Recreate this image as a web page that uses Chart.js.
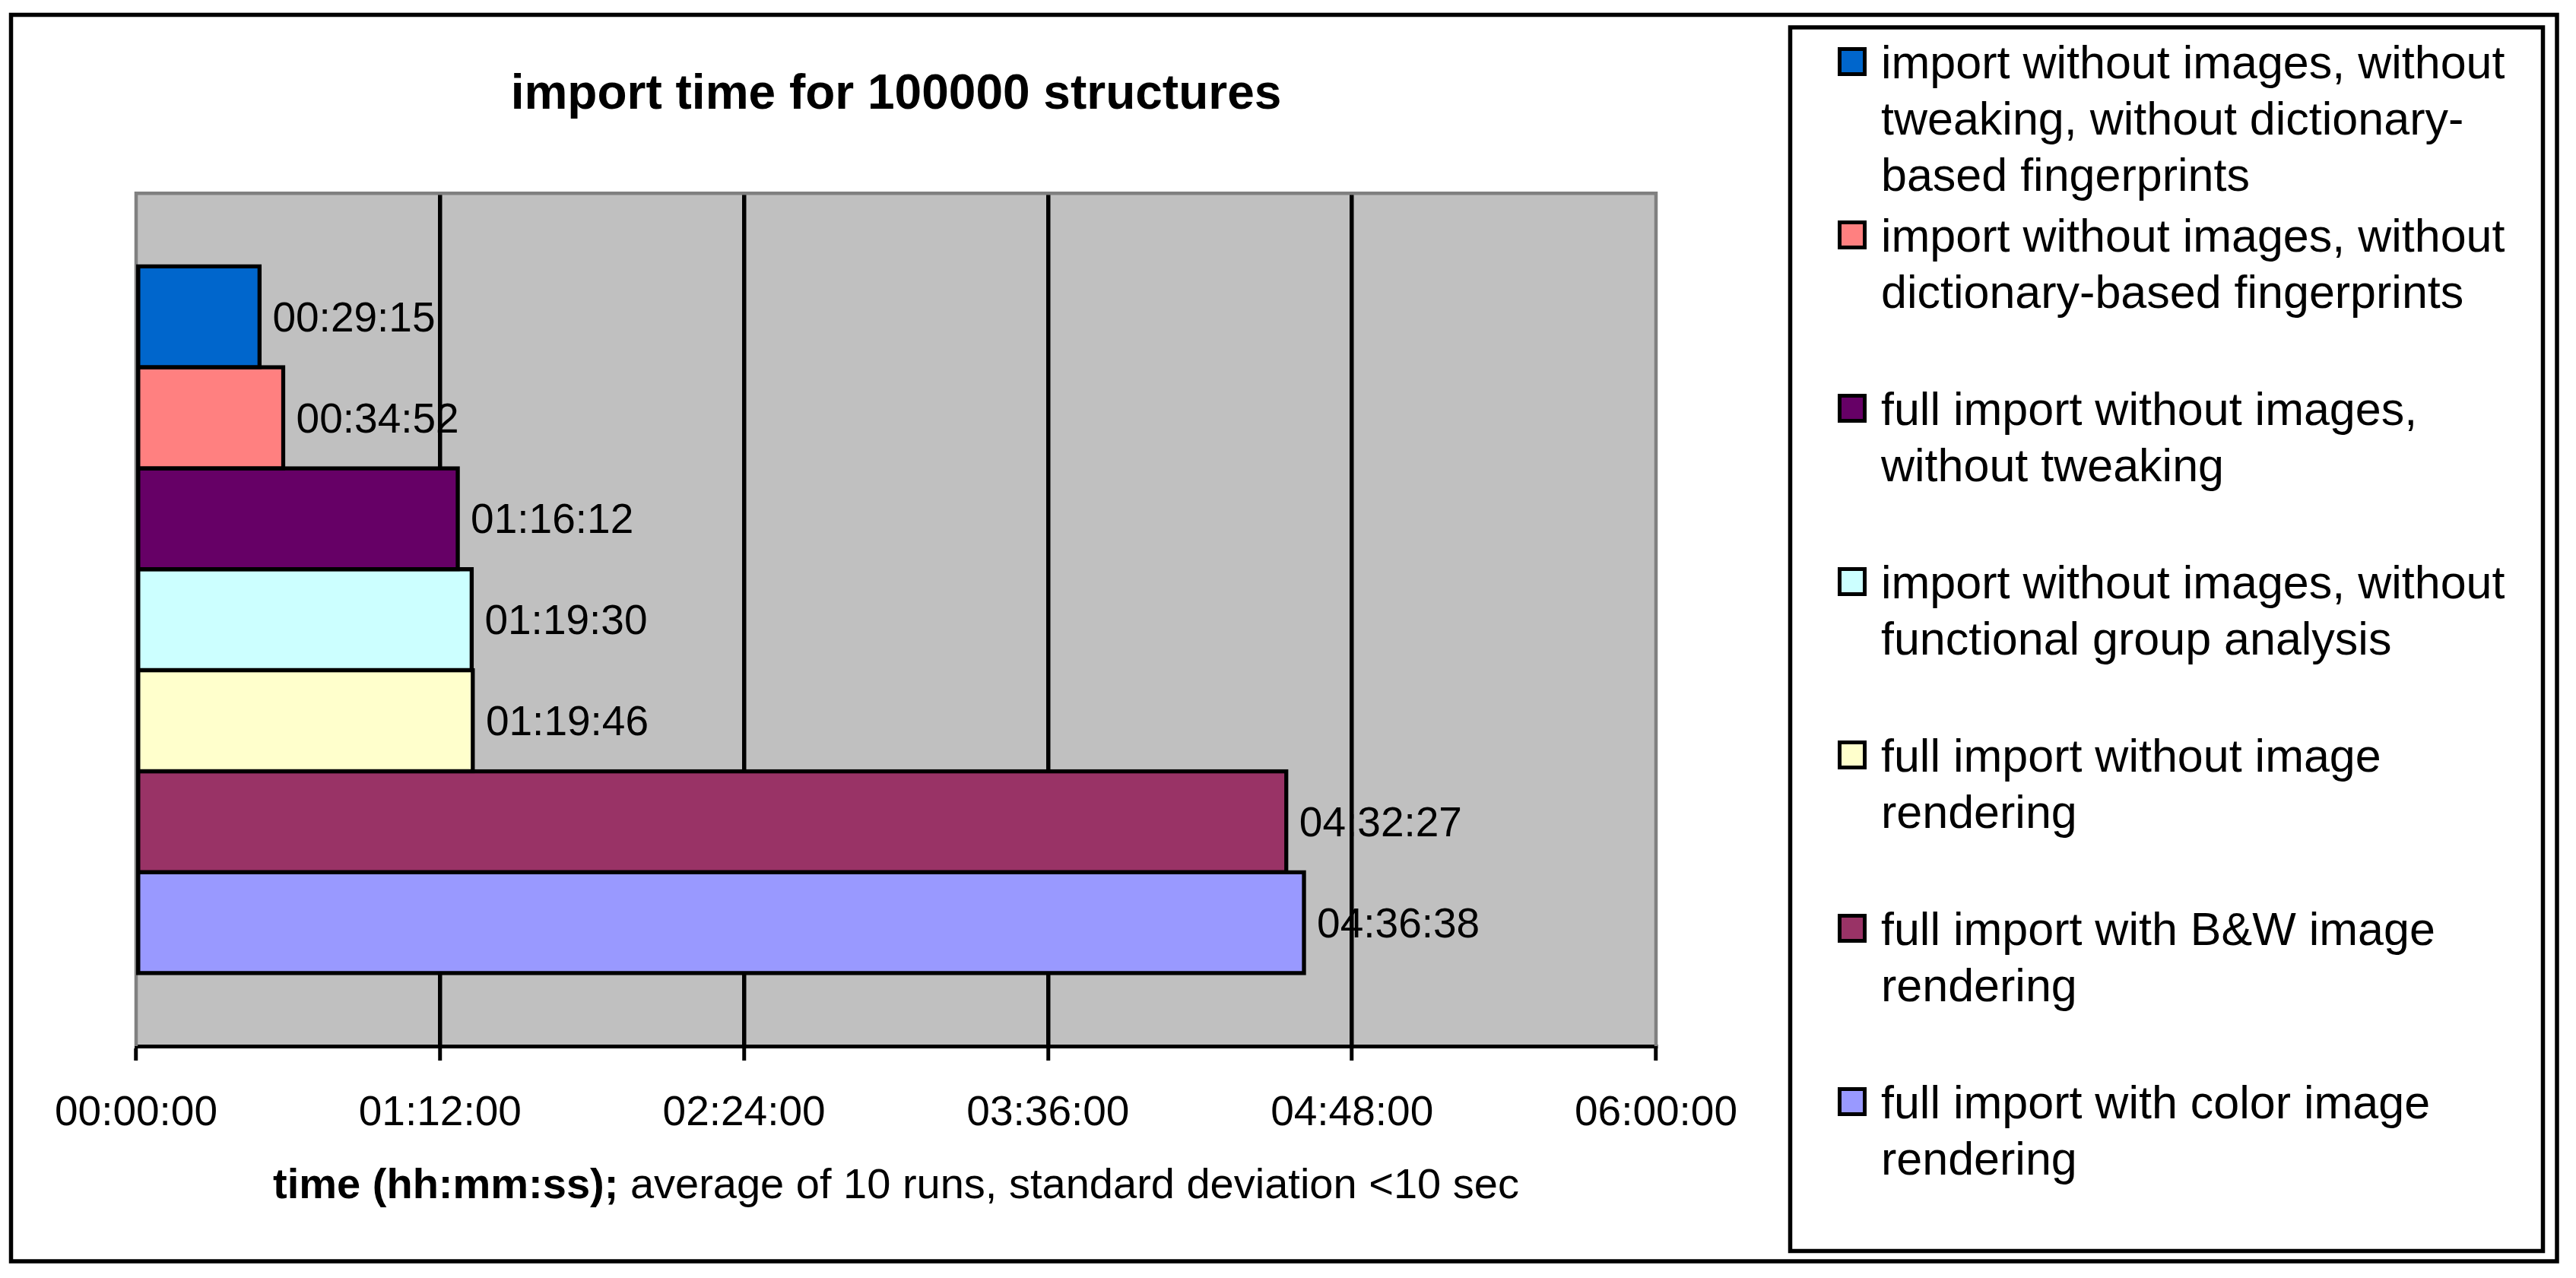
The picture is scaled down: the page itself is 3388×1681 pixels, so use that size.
<!DOCTYPE html>
<html>
<head>
<meta charset="utf-8">
<title>import time for 100000 structures</title>
<script src="https://cdn.jsdelivr.net/npm/chart.js@4.4.1/dist/chart.umd.min.js"></script>
<style>
    html, body { margin: 0; padding: 0; background: #ffffff; overflow: hidden; }
    #importChart { display: block; }
</style>
</head>
<body>
<canvas id="importChart" width="3388" height="1681"></canvas>
<script>
    // Data (hh:mm:ss, one bar per series)
    var categories = [''];
    var importTimes = ['00:29:15', '00:34:52', '01:16:12', '01:19:30', '01:19:46', '04:32:27', '04:36:38'];
    var seriesNames = [
        ['import without images, without', 'tweaking, without dictionary-', 'based fingerprints'],
        ['import without images, without', 'dictionary-based fingerprints'],
        ['full import without images,', 'without tweaking'],
        ['import without images, without', 'functional group analysis'],
        ['full import without image', 'rendering'],
        ['full import with B&W image', 'rendering'],
        ['full import with color image', 'rendering']
    ];
    var seriesColors = ['#0066CC', '#FF8080', '#660066', '#CCFFFF', '#FFFFCC', '#993366', '#9999FF'];
    var axisTicks = ['00:00:00', '01:12:00', '02:24:00', '03:36:00', '04:48:00', '06:00:00'];
    var chartTitle = 'import time for 100000 structures';
    var axisTitleBold = 'time (hh:mm:ss);';
    var axisTitleRest = ' average of 10 runs, standard deviation <10 sec';

    var FONT = '"Liberation Sans", Arial, Helvetica, sans-serif';

    // "hh:mm:ss" -> seconds
    function toSeconds(str) {
        var p = str.split(':');
        return (+p[0]) * 3600 + (+p[1]) * 60 + (+p[2]);
    }

    // seconds -> "hh:mm:ss"
    function toClock(sec) {
        var h = Math.floor(sec / 3600), m = Math.floor((sec % 3600) / 60), s = Math.round(sec % 60);
        return [h, m, s].map(function (v) { return (v < 10 ? '0' : '') + v; }).join(':');
    }

    var axisMin = toSeconds(axisTicks[0]);
    var axisMax = toSeconds(axisTicks[axisTicks.length - 1]);
    var axisStep = toSeconds(axisTicks[1]) - axisMin;

    var datasets = importTimes.map(function (t, i) {
        return {
            label: seriesNames[i].join(' '),
            data: [toSeconds(t)],
            backgroundColor: seriesColors[i],
            borderColor: '#000000',
            borderWidth: 5.5,
            borderSkipped: false,
            // push the outline half outwards so it sits on the bar edge, like Excel
            inflateAmount: 2.75,
            clip: false,
            categoryPercentage: 0.829,
            barPercentage: 1.0
        };
    });

    // white page, outer frame, legend frame and grey plot area
    var backgroundPlugin = {
        id: 'background',
        beforeDraw: function (chart) {
            var c = chart.ctx, a = chart.chartArea;
            c.save();
            c.fillStyle = '#ffffff';
            c.fillRect(0, 0, chart.width, chart.height);
            c.strokeStyle = '#000000';
            c.lineWidth = 5.5;
            c.strokeRect(14.5, 19.5, 3363 - 14.5, 1659 - 19.5);
            c.strokeRect(2354.5, 36, 3344.5 - 2354.5, 1645.5 - 36);
            c.fillStyle = '#C0C0C0';
            c.fillRect(a.left, a.top, a.right - a.left, a.bottom - a.top);
            c.restore();
        },
        beforeDatasetsDraw: function (chart) {
            var c = chart.ctx, a = chart.chartArea;
            c.save();
            c.strokeStyle = '#808080';
            c.lineWidth = 4.5;
            c.beginPath();
            c.moveTo(a.left, a.bottom);
            c.lineTo(a.left, a.top);
            c.lineTo(a.right, a.top);
            c.lineTo(a.right, a.bottom);
            c.stroke();
            c.restore();
        }
    };

    // value labels to the right of each bar
    var valueLabelPlugin = {
        id: 'valueLabels',
        afterDatasetsDraw: function (chart) {
            var c = chart.ctx;
            c.save();
            c.font = '55px ' + FONT;
            c.fillStyle = '#000000';
            c.textAlign = 'left';
            c.textBaseline = 'middle';
            chart.data.datasets.forEach(function (ds, i) {
                var bar = chart.getDatasetMeta(i).data[0];
                c.fillText(toClock(ds.data[0]), bar.x + 17, bar.y + 4);
            });
            c.restore();
        }
    };

    // axis title (bold + normal part) and the framed legend at the right
    var sideTextPlugin = {
        id: 'sideText',
        afterDraw: function (chart) {
            var c = chart.ctx, a = chart.chartArea;
            c.save();
            c.fillStyle = '#000000';
            c.textBaseline = 'alphabetic';
            c.textAlign = 'left';

            c.font = 'bold 56px ' + FONT;
            var w1 = c.measureText(axisTitleBold).width;
            c.font = '56px ' + FONT;
            var w2 = c.measureText(axisTitleRest).width;
            var x0 = (a.left + a.right) / 2 - (w1 + w2) / 2;
            c.font = 'bold 56px ' + FONT;
            c.fillText(axisTitleBold, x0, 1576);
            c.font = '56px ' + FONT;
            c.fillText(axisTitleRest, x0 + w1, 1576);

            c.font = '61px ' + FONT;
            chart.data.datasets.forEach(function (ds, i) {
                var base = 103 + 228 * i;
                c.fillStyle = '#000000';
                c.fillRect(2417, base - 41, 38, 38);
                c.fillStyle = ds.backgroundColor;
                c.fillRect(2422, base - 36, 28, 28);
                c.fillStyle = '#000000';
                seriesNames[i].forEach(function (line, k) {
                    c.fillText(line, 2474, base + 74 * k);
                });
            });
            c.restore();
        }
    };

    var ctx = document.getElementById('importChart').getContext('2d');

    var importChart = new Chart(ctx, {
        type: 'bar',
        data: {
            labels: categories,
            datasets: datasets
        },
        plugins: [backgroundPlugin, valueLabelPlugin, sideTextPlugin],
        options: {
            indexAxis: 'y',
            responsive: false,
            animation: false,
            layout: {
                padding: { top: 0, bottom: 0, left: 179, right: 1210 }
            },
            scales: {
                x: {
                    type: 'linear',
                    min: axisMin,
                    max: axisMax,
                    afterFit: function (scale) { scale.height = 305; },
                    ticks: {
                        stepSize: axisStep,
                        padding: 37,
                        color: '#000000',
                        font: { family: FONT, size: 55 },
                        maxRotation: 0,
                        autoSkip: false,
                        callback: function (v) { return toClock(v); }
                    },
                    grid: {
                        color: function (c) {
                            var n = c.chart.scales.x.ticks.length;
                            return (c.index === 0 || c.index === n - 1) ? 'rgba(0,0,0,0)' : '#000000';
                        },
                        lineWidth: 5.5,
                        tickColor: '#000000',
                        tickWidth: 5,
                        tickLength: 19
                    },
                    border: { display: true, color: '#000000', width: 5 },
                    title: { display: false }
                },
                y: {
                    display: false
                }
            },
            plugins: {
                title: {
                    display: true,
                    text: chartTitle,
                    color: '#000000',
                    font: { family: FONT, size: 64, weight: 'bold', lineHeight: 1.2 },
                    padding: { top: 86.5, bottom: 91 }
                },
                legend: { display: false },
                tooltip: { enabled: false }
            }
        }
    });
</script>
</body>
</html>
